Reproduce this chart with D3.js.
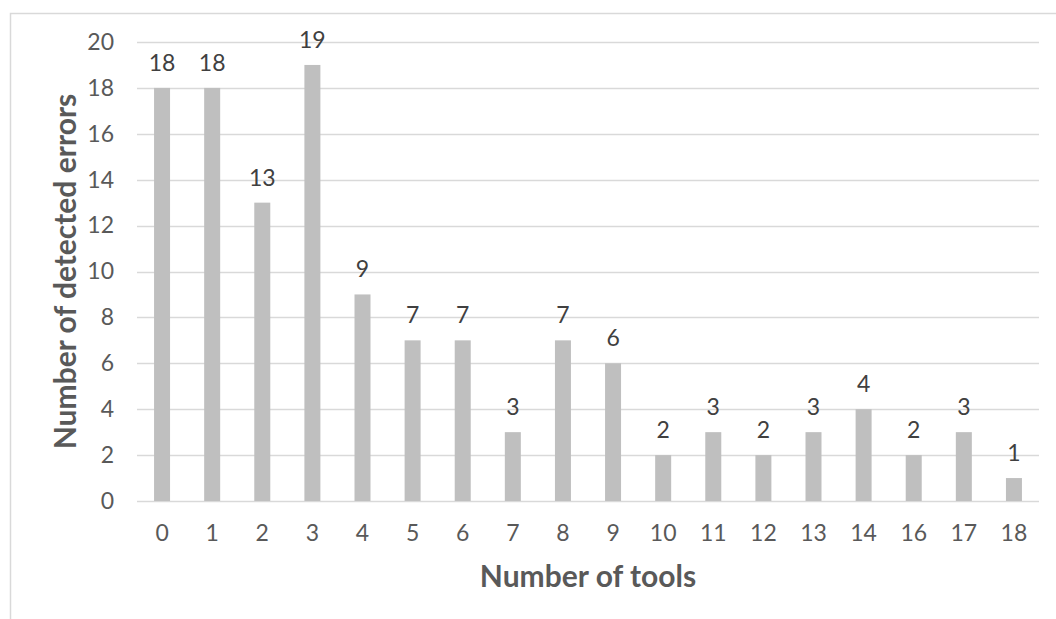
<!DOCTYPE html>
<html><head><meta charset="utf-8">
<script src="https://cdn.jsdelivr.net/npm/d3@7"></script>
<style>body{margin:0;background:#fff;} svg{display:block;} text{font-family:Lato,"Open Sans",sans-serif;}</style>
</head><body>
<svg id="c" width="1056" height="619"></svg>
<script>
const categories = ["0","1","2","3","4","5","6","7","8","9","10","11","12","13","14","16","17","18"];
const values = [18,18,13,19,9,7,7,3,7,6,2,3,2,3,4,2,3,1];
const yTicks = [0,2,4,6,8,10,12,14,16,18,20];
const xTitle = "Number of tools";
const yTitle = "Number of detected errors";

const svg = d3.select("#c");
// outer chart border
svg.append("rect").attr("x",10.5).attr("y",13.5).attr("width",1100).attr("height",700)
  .attr("fill","none").attr("stroke","#d9d9d9").attr("stroke-width",1.5);

const pL = 137, pR = 1039, pT = 42, pB = 501;
const x = d3.scaleBand().domain(categories).range([pL,pR]).paddingInner(0.68).paddingOuter(0.34);
const y = d3.scaleLinear().domain([0,20]).range([pB,pT]);

// gridlines
svg.append("g").selectAll("line").data(yTicks).join("line")
  .attr("x1",pL).attr("x2",pR).attr("y1",d=>Math.round(y(d))+0.5).attr("y2",d=>Math.round(y(d))+0.5)
  .attr("stroke","#d9d9d9").attr("stroke-width",1.5);

// y axis labels
const yAxis = d3.axisLeft(y).tickValues(yTicks).tickSize(0).tickPadding(0);
const gy = svg.append("g").attr("transform",`translate(${pL-23},0)`).call(yAxis);
gy.select(".domain").remove();
gy.selectAll("text").attr("font-size",23).attr("fill","#595959").attr("font-family","Lato");

// bars
const bw = 16;
svg.append("g").selectAll("rect").data(values).join("rect")
  .attr("x",(d,i)=>x(categories[i])+x.bandwidth()/2-bw/2)
  .attr("width",bw)
  .attr("y",d=>y(d)).attr("height",d=>pB-y(d))
  .attr("fill","#bfbfbf");

// x axis labels
const xAxis = d3.axisBottom(x).tickSize(0).tickPadding(0);
const gx = svg.append("g").attr("transform",`translate(0,${pB})`).call(xAxis);
gx.select(".domain").remove();
gx.selectAll("text").attr("font-size",23).attr("fill","#595959").attr("font-family","Lato")
  .attr("dy",null).attr("y",40).attr("dominant-baseline","alphabetic");

// data labels
svg.append("g").selectAll("text").data(values).join("text")
  .attr("x",(d,i)=>x(categories[i])+x.bandwidth()/2)
  .attr("y",d=>y(d)-17)
  .attr("text-anchor","middle").attr("font-size",23).attr("fill","#404040")
  .text(d=>d);

// axis titles
svg.append("text").attr("x",588).attr("y",587).attr("text-anchor","middle")
  .attr("font-size",30).attr("font-weight","bold").attr("fill","#595959").text(xTitle);
svg.append("text").attr("transform",`translate(76,${(pT+pB)/2}) rotate(-90)`)
  .attr("text-anchor","middle").attr("font-size",30).attr("font-weight","bold").attr("fill","#595959").text(yTitle);
</script>
</body></html>
